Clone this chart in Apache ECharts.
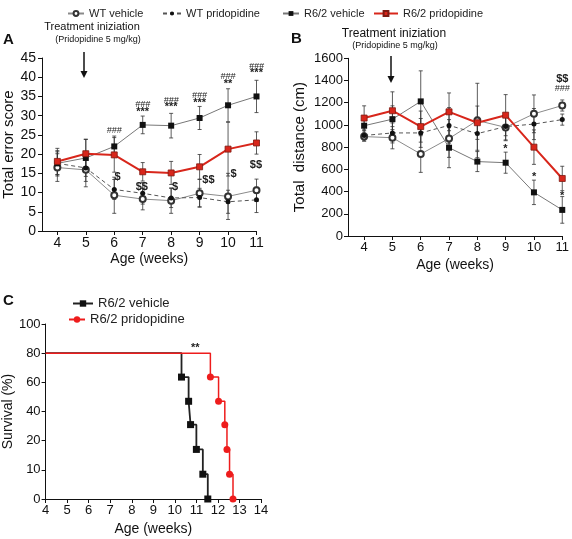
<!DOCTYPE html>
<html><head><meta charset="utf-8">
<script src="https://cdn.jsdelivr.net/npm/echarts@6/dist/echarts.min.js"></script>
<style>html,body{margin:0;padding:0;background:#fff}#c{width:572px;height:539px}</style>
</head><body><div id="c"></div>
<script>
// ---------- DATA ----------
const weeks = [4, 5, 6, 7, 8, 9, 10, 11];
const weekTicks = [4, 5, 6, 7, 8, 9, 10, 11];

// Panel A: Total error score
const aWtVehicle = [16.5, 15.9, 9.3, 8.3, 7.9, 9.8, 9.0, 10.6];
const aWtVehicleErr = [3.6, 4.4, 4.7, 2.8, 3.3, 3.6, 6.0, 2.9];
const aWtPrido = [17.6, 16.4, 10.8, 9.8, 8.6, 8.7, 7.6, 8.1];
const aWtPridoErr = [3.3, 3.5, 2.6, 2.8, 2.5, 2.4, 3.0, 3.3];
const aR62Vehicle = [17.6, 19.0, 22.0, 27.6, 27.4, 29.4, 32.7, 35.0];
const aR62VehicleErr = [3.0, 4.8, 2.7, 2.3, 3.2, 3.0, 4.3, 4.2];
const aR62Prido = [18.1, 20.1, 19.8, 15.4, 15.1, 16.7, 21.3, 22.9];
const aR62PridoErr = [3.4, 3.8, 4.5, 2.4, 3.0, 3.2, 7.0, 2.9];
// annotations A: [week, value, text]
const aMarks = [
  [6, 26.2, '###'],
  [7, 32.8, '###'], [7, 31.0, '***'],
  [8, 33.9, '###'], [8, 32.2, '***'],
  [9, 35.2, '###'], [9, 33.4, '***'],
  [10, 40.1, '###'], [10, 38.2, '**'],
  [11, 42.7, '###'], [11, 41.0, '***'],
  [6.12, 14.1, '$'], [6.97, 11.5, '$$'], [8.14, 11.5, '$'],
  [9.31, 13.4, '$$'], [10.19, 14.8, '$'], [10.98, 17.2, '$$']
];

// Panel B: Total distance (cm)
const bWtVehicle = [895, 885, 738, 878, 1040, 978, 1100, 1175];
const bWtVehicleErr = [40, 100, 165, 170, 335, 120, 170, 50];
const bWtPrido = [905, 928, 928, 996, 922, 985, 1008, 1048];
const bWtPridoErr = [50, 90, 130, 160, 150, 120, 140, 50];
const bR62Vehicle = [993, 1052, 1212, 795, 670, 660, 393, 235];
const bR62VehicleErr = [90, 120, 275, 180, 90, 95, 110, 120];
const bR62Prido = [1062, 1128, 985, 1118, 1020, 1088, 800, 518];
const bR62PridoErr = [110, 170, 140, 170, 150, 185, 155, 110];
const bMarks = [
  [8.99, 781, '*'], [10.01, 529, '*'], [11.0, 360, '*'],
  [11.0, 1412, '$$'], [11.0, 1331, '###']
];

// Panel C: survival (step curves)
const cYTicks = [0, 10, 20, 40, 60, 80, 100];
const cVehWeeks = [4, 10.31, 10.64, 10.73, 11.0, 11.3, 11.53];
const cVehSurv = [80, 63.6, 47, 31, 17, 8.5, 0];
const cPriWeeks = [4, 11.65, 12.03, 12.32, 12.42, 12.54, 12.70];
const cPriSurv = [80, 63.6, 47, 31, 17, 8.5, 0];
const cMarks = [[10.95, 83.5, '**']];

// ---------- HELPERS ----------
const FONT = '"Liberation Sans", Arial, Helvetica, sans-serif';
const RED = '#d8261b';
function pts(xs, ys) { return xs.map((x, i) => [x, ys[i]]); }
function errData(ys, es) { return weeks.map((w, i) => [w, ys[i] - es[i], ys[i] + es[i]]); }
function cIdx(v) {
  for (let i = 1; i < cYTicks.length; i++) {
    if (v <= cYTicks[i]) return i - 1 + (v - cYTicks[i - 1]) / (cYTicks[i] - cYTicks[i - 1]);
  }
  return cYTicks.length - 1;
}
function errSeries(ys, es, axis) {
  return {
    type: 'custom', xAxisIndex: axis, yAxisIndex: axis, z: 1, silent: true,
    data: errData(ys, es), encode: { x: 0, y: [1, 2] },
    renderItem: function (params, api) {
      const x = api.value(0);
      const p1 = api.coord([x, api.value(2)]), p2 = api.coord([x, api.value(1)]);
      const w = 2, st = { stroke: '#333', lineWidth: 0.8 };
      return { type: 'group', children: [
        { type: 'line', shape: { x1: p1[0], y1: p1[1], x2: p2[0], y2: p2[1] }, style: st },
        { type: 'line', shape: { x1: p1[0] - w, y1: p1[1], x2: p1[0] + w, y2: p1[1] }, style: st },
        { type: 'line', shape: { x1: p2[0] - w, y1: p2[1], x2: p2[0] + w, y2: p2[1] }, style: st }
      ]};
    }
  };
}
function markSeries(marks, axis, mapY) {
  return {
    type: 'custom', xAxisIndex: axis, yAxisIndex: axis, z: 5, silent: true,
    data: marks.map(m => [m[0], mapY ? mapY(m[1]) : m[1]]),
    renderItem: function (params, api) {
      const p = api.coord([api.value(0), api.value(1)]);
      const t = marks[params.dataIndex][2];
      const isHash = t.indexOf('#') >= 0, isDollar = t.indexOf('$') >= 0;
      return { type: 'text', x: p[0], y: p[1], style: {
        text: t, align: 'center', verticalAlign: 'middle',
        fontFamily: FONT, fontSize: isHash ? 9 : (isDollar ? 11 : 11),
        fontStyle: isHash ? 'italic' : 'normal',
        fontWeight: isHash ? 'normal' : 'bold', fill: '#222' } };
    }
  };
}
const styles = {
  wtVeh: { symbol: 'emptyCircle', symbolSize: 6, itemStyle: { color: '#333', borderColor: '#333', borderWidth: 0.8 }, lineStyle: { color: '#8a8a8a', width: 1 } },
  wtPri: { symbol: 'circle', symbolSize: 5, itemStyle: { color: '#111' }, lineStyle: { color: '#555', width: 1, type: [4, 3] } },
  r6Veh: { symbol: 'rect', symbolSize: 6, itemStyle: { color: '#111' }, lineStyle: { color: '#777', width: 1 } },
  r6Pri: { symbol: 'rect', symbolSize: 6, itemStyle: { color: RED, borderColor: '#7d1a12', borderWidth: 0.8 }, lineStyle: { color: RED, width: 2 } }
};
function lineS(name, key, xs, ys, axis, z) {
  return Object.assign({ type: 'line', name: name, xAxisIndex: axis, yAxisIndex: axis, z: z,
    data: pts(xs, ys), silent: true, animation: false }, JSON.parse(JSON.stringify(styles[key])));
}
function axisCommon() {
  return {
    axisLine: { show: true, onZero: false, lineStyle: { color: '#111', width: 1 } },
    axisTick: { show: true, inside: false, length: 4, lineStyle: { color: '#111', width: 1 } },
    splitLine: { show: false }
  };
}

const names = ['WT vehicle', 'WT pridopidine', 'R6/2 vehicle', 'R6/2 pridopidine'];
const legTxt = { fontSize: 11, color: '#222', fontFamily: FONT };
const legTxtC = { fontSize: 13, color: '#222', fontFamily: FONT };

const option = {
  animation: false,
  textStyle: { fontFamily: FONT },
  grid: [
    { left: 42, right: 315.5, top: 58, bottom: 308 },
    { left: 348, right: 7.7, top: 58.3, bottom: 303 },
    { left: 42, right: 311, top: 324, bottom: 40 }
  ],
  legend: [
    { data: [names[0]], left: 62, top: 3, itemWidth: 16, itemHeight: 6, textStyle: legTxt, selectedMode: false },
    { data: [names[1]], left: 157, top: 3, itemWidth: 18, itemHeight: 5, textStyle: legTxt, selectedMode: false },
    { data: [names[2]], left: 277, top: 3, itemWidth: 16, itemHeight: 6, textStyle: legTxt, selectedMode: false },
    { data: [names[3]], left: 368, top: 3, itemWidth: 24, itemHeight: 6, textStyle: legTxt, selectedMode: false },
    { data: ['C:R6/2 vehicle'], left: 67, top: 292, itemWidth: 20, itemHeight: 8, formatter: n => n.replace('C:', ''), textStyle: legTxtC, selectedMode: false },
    { data: ['C:R6/2 pridopidine'], left: 63, top: 308, itemWidth: 16, itemHeight: 8, formatter: n => n.replace('C:', ''), textStyle: legTxtC, selectedMode: false }
  ],
  xAxis: [
    Object.assign(axisCommon(), { type: 'value', gridIndex: 0, min: 3.46, max: 11,
      axisLabel: { customValues: weekTicks, fontSize: 14, color: '#111', margin: 5 },
      axisTick: { show: true, customValues: weekTicks, length: 4, lineStyle: { color: '#111' } },
      name: 'Age (weeks)', nameLocation: 'middle', nameGap: 21, nameTextStyle: { fontSize: 14, color: '#111' } }),
    Object.assign(axisCommon(), { type: 'value', gridIndex: 1, min: 3.43, max: 11,
      axisLabel: { customValues: weekTicks, fontSize: 13, color: '#111', margin: 5 },
      axisTick: { show: true, customValues: weekTicks, length: 4, lineStyle: { color: '#111' } },
      name: 'Age (weeks)', nameLocation: 'middle', nameGap: 22, nameTextStyle: { fontSize: 14, color: '#111' } }),
    Object.assign(axisCommon(), { type: 'value', gridIndex: 2, min: 4, max: 14, interval: 1,
      axisLabel: { fontSize: 13, color: '#111', margin: 5 },
      name: 'Age (weeks)', nameLocation: 'middle', nameGap: 23, nameTextStyle: { fontSize: 14, color: '#111' } })
  ],
  yAxis: [
    Object.assign(axisCommon(), { type: 'value', gridIndex: 0, min: 0, max: 45, interval: 5,
      axisLabel: { fontSize: 14, color: '#111', margin: 6 },
      name: 'Total error score', nameLocation: 'middle', nameGap: 26, nameTextStyle: { fontSize: 15, color: '#111' } }),
    Object.assign(axisCommon(), { type: 'value', gridIndex: 1, min: 0, max: 1600, interval: 200,
      axisLabel: { fontSize: 13, color: '#111', margin: 5, formatter: v => String(v) },
      name: 'Total  distance (cm)', nameLocation: 'middle', nameGap: 41, nameTextStyle: { fontSize: 15, color: '#111' } }),
    Object.assign(axisCommon(), { type: 'value', gridIndex: 2, min: 0, max: cYTicks.length - 1, interval: 1,
      axisLabel: { fontSize: 13, color: '#111', margin: 5, formatter: v => String(cYTicks[Math.round(v)]) },
      name: 'Survival (%)', nameLocation: 'middle', nameGap: 28, nameTextStyle: { fontSize: 14, color: '#111' } })
  ],
  series: [
    errSeries(aWtVehicle, aWtVehicleErr, 0), errSeries(aWtPrido, aWtPridoErr, 0),
    errSeries(aR62Vehicle, aR62VehicleErr, 0), errSeries(aR62Prido, aR62PridoErr, 0),
    lineS(names[0], 'wtVeh', weeks, aWtVehicle, 0, 2),
    lineS(names[1], 'wtPri', weeks, aWtPrido, 0, 2),
    lineS(names[2], 'r6Veh', weeks, aR62Vehicle, 0, 3),
    lineS(names[3], 'r6Pri', weeks, aR62Prido, 0, 4),
    markSeries(aMarks, 0),

    errSeries(bWtVehicle, bWtVehicleErr, 1), errSeries(bWtPrido, bWtPridoErr, 1),
    errSeries(bR62Vehicle, bR62VehicleErr, 1), errSeries(bR62Prido, bR62PridoErr, 1),
    lineS(names[0], 'wtVeh', weeks, bWtVehicle, 1, 2),
    lineS(names[1], 'wtPri', weeks, bWtPrido, 1, 2),
    lineS(names[2], 'r6Veh', weeks, bR62Vehicle, 1, 3),
    lineS(names[3], 'r6Pri', weeks, bR62Prido, 1, 4),
    markSeries(bMarks, 1),

    { type: 'line', name: 'C:R6/2 vehicle', xAxisIndex: 2, yAxisIndex: 2, z: 3, step: 'end', silent: true,
      symbol: 'rect', symbolSize: 7, itemStyle: { color: '#111' }, lineStyle: { color: '#222', width: 1.8 },
      data: cVehWeeks.map((w, i) => i === 0 ? { value: [w, cIdx(cVehSurv[i])], symbol: 'none' } : [w, cIdx(cVehSurv[i])]) },
    { type: 'line', name: 'C:R6/2 pridopidine', xAxisIndex: 2, yAxisIndex: 2, z: 4, step: 'end', silent: true,
      symbol: 'circle', symbolSize: 7, itemStyle: { color: '#ee1c1c' }, lineStyle: { color: '#ee1c1c', width: 1.5 },
      data: cPriWeeks.map((w, i) => i === 0 ? { value: [w, cIdx(cPriSurv[i])], symbol: 'none' } : [w, cIdx(cPriSurv[i])]) },
    markSeries(cMarks, 2, cIdx)
  ],
  graphic: [
    { type: 'text', left: 3, top: 32, style: { text: 'A', fontSize: 15, fontWeight: 'bold', fontFamily: FONT, fill: '#111' } },
    { type: 'text', left: 291, top: 31, style: { text: 'B', fontSize: 15, fontWeight: 'bold', fontFamily: FONT, fill: '#111' } },
    { type: 'text', left: 3, top: 293, style: { text: 'C', fontSize: 15, fontWeight: 'bold', fontFamily: FONT, fill: '#111' } },
    { type: 'text', x: 92, y: 27, style: { text: 'Treatment iniziation', align: 'center', verticalAlign: 'middle', fontSize: 11, fontFamily: FONT, fill: '#111' } },
    { type: 'text', x: 98, y: 40, style: { text: '(Pridopidine 5 mg/kg)', align: 'center', verticalAlign: 'middle', fontSize: 9, fontFamily: FONT, fill: '#111' } },
    { type: 'line', shape: { x1: 84, y1: 52, x2: 84, y2: 73 }, style: { stroke: '#111', lineWidth: 1.5 } },
    { type: 'polygon', shape: { points: [[80.5, 71], [87.5, 71], [84, 78]] }, style: { fill: '#111' } },
    { type: 'text', x: 394, y: 34, style: { text: 'Treatment iniziation', align: 'center', verticalAlign: 'middle', fontSize: 12, fontFamily: FONT, fill: '#111' } },
    { type: 'text', x: 395, y: 46, style: { text: '(Pridopidine 5 mg/kg)', align: 'center', verticalAlign: 'middle', fontSize: 9, fontFamily: FONT, fill: '#111' } },
    { type: 'line', shape: { x1: 391, y1: 56, x2: 391, y2: 78 }, style: { stroke: '#111', lineWidth: 1.5 } },
    { type: 'polygon', shape: { points: [[387.5, 76], [394.5, 76], [391, 83]] }, style: { fill: '#111' } }
  ]
};
const chart = echarts.init(document.getElementById('c'), null, { renderer: 'canvas' });
chart.setOption(option);
</script>
</body></html>
